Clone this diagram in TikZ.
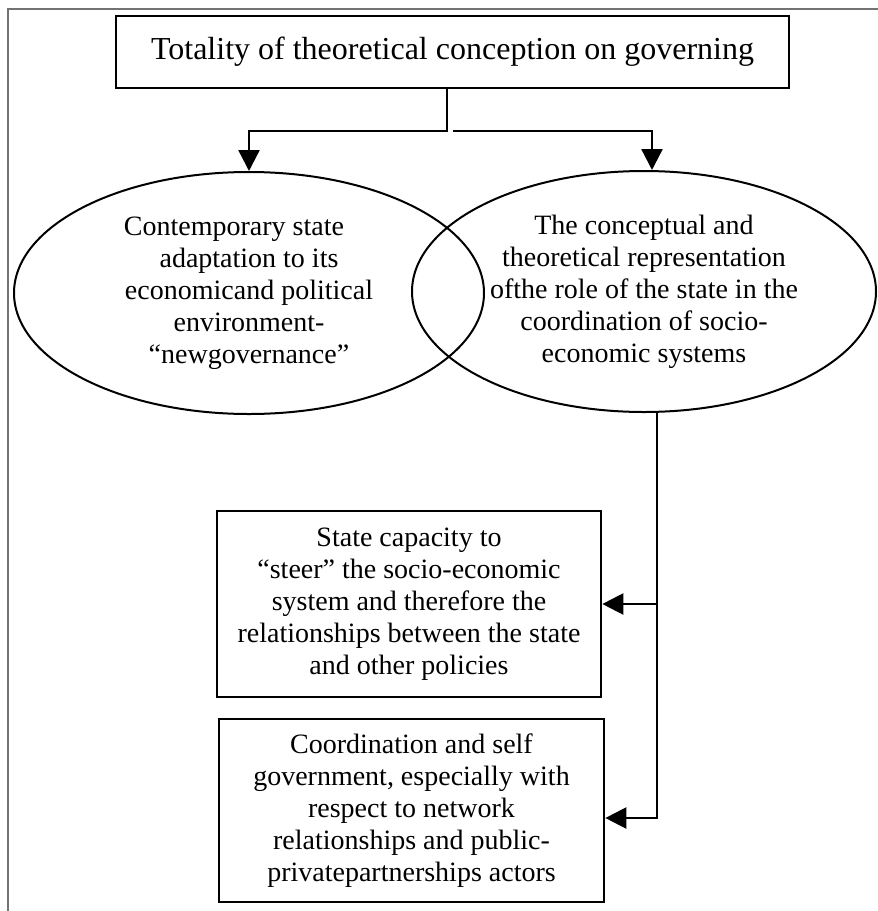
\documentclass[tikz,border=0pt]{standalone}
\usepackage{fontspec}
\setmainfont{Liberation Serif}
\usetikzlibrary{shapes.geometric,arrows.meta,calc}
\begin{document}
\begin{tikzpicture}[x=1pt,y=-1pt,
  boxstyle/.style={draw, line width=2.7pt, rectangle, inner sep=0pt, align=center},
  ellstyle/.style={draw, line width=2pt, ellipse, inner sep=0pt, align=center},
  maintext/.style={font=\fontsize{28}{32}\selectfont},
  conn/.style={line width=2.4pt},
  arr/.style={conn, -{Triangle[length=21pt,width=21pt]}},
  frame/.style={draw=black!55, line width=1.2pt}
]
\useasboundingbox (0,0) rectangle (878,911);
% outer frame (top and left edges visible)
\coordinate (ftl) at (8,9);
\coordinate (ftr) at (878,9);
\coordinate (fbl) at (8,911);
\draw[frame] (ftr) -- (ftl) -- (fbl);

% nodes
\node[boxstyle, minimum width=673pt, minimum height=72pt,
      font=\fontsize{32}{38}\selectfont] (top) at (452.5,52)
  {Totality of theoretical conception on governing};

\node[ellstyle, maintext, minimum width=470pt, minimum height=242pt] (lft) at (249,293)
  {Contemporary state\hspace*{30pt}\\ adaptation to its\\ economicand political\\ environment-\\ “newgovernance”};

\node[ellstyle, maintext, minimum width=464pt, minimum height=241pt] (rgt) at (644,291.5)
  {The conceptual and\\ theoretical representation\\ ofthe role of the state in the\\ coordination of socio-\\ economic systems};

\node[boxstyle, maintext, minimum width=384pt, minimum height=186pt] (b1) at (409,604)
  {State capacity to\\ “steer” the socio-economic\\ system and therefore the\\ relationships between the state\\ and other policies};

\node[boxstyle, maintext, minimum width=385pt, minimum height=183pt] (b2) at (411.5,810.5)
  {Coordination and self\\ government, especially with\\ respect to network\\ relationships and public-\\ privatepartnerships actors};

% connectors from the top box
\coordinate (jl) at (447,131);
\coordinate (jr) at (453,131);
\coordinate (rt) at ($(rgt.north)+(8,0)$);
\draw[arr] (top.south -| jl) -- (jl) -| (lft.north);
\draw[arr] (jr) -| (rt);

% connectors from the right ellipse to the boxes
\coordinate (v) at (657,818);
\draw[arr] (rgt.south -| v) -- (v) -- (v -| b2.east);
\draw[arr] (b1.east -| v) -- (b1.east);
\end{tikzpicture}
\end{document}
